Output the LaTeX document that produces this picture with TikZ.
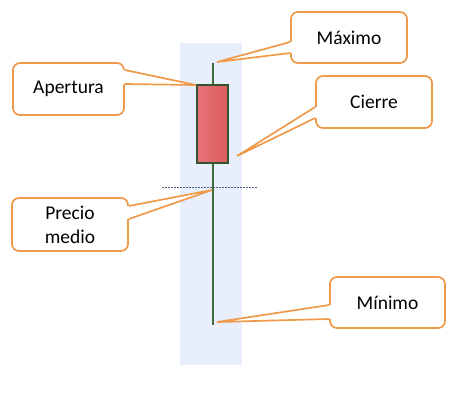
\documentclass[tikz,border=0pt]{standalone}
\usepackage{fontspec}
\setmainfont{Carlito}
\usetikzlibrary{calc}
\definecolor{calloutorange}{HTML}{EE9A4A}
\definecolor{bandblue}{HTML}{E8EEFB}
\definecolor{wickgreen}{HTML}{3F6A3C}
\definecolor{bodyleft}{HTML}{E8727A}
\definecolor{bodyright}{HTML}{DB5C5C}
\definecolor{midline}{HTML}{4C5C7C}
\tikzset{
  calloutbox/.style={draw=calloutorange, line width=1.7pt, fill=white,
    rounded corners=7pt, minimum width=#1, align=center, inner sep=0pt,
    font=\fontsize{19.5}{24}\selectfont, text=black},
  calloutline/.style={draw=calloutorange, line width=1.7pt, line join=miter},
  pointerfill/.style={fill=white}
}
\begin{document}
\begin{tikzpicture}[x=1pt,y=-1pt]
\useasboundingbox (0,0) rectangle (460,400);
% background band
\fill[bandblue] (180,43) rectangle (242,365);
% mean price line
\draw[midline, line width=1pt, dash pattern=on 2pt off 1pt] (162,187) -- (258,187);
% wick
\draw[wickgreen, line width=2pt] (213,63) -- (213,325);
% body
\shade[left color=bodyleft, right color=bodyright] (197,85) rectangle (228,163);
\draw[wickgreen!80!black, line width=1.6pt] (197,85) rectangle (228,163);
% tips
\coordinate (maxtip) at (217,62);
\coordinate (apetip) at (196,85);
\coordinate (ciertip) at (237,156);
\coordinate (medtip) at (212,190);
\coordinate (mintip) at (217,322);
% boxes
\node[calloutbox=116pt, minimum height=51pt] (max) at (349,37.5) {Máximo};
\node[calloutbox=111pt, minimum height=52pt] (ape) at (68.5,89) {Apertura};
\node[calloutbox=116pt, minimum height=52pt] (cie) at (374,102) {Cierre};
\node[calloutbox=116pt, minimum height=53pt] (med) at (70,224.5) {Precio\\medio};
\node[calloutbox=115pt, minimum height=51pt] (min) at (387.5,302.5) {Mínimo};
% pointers: west side
\foreach \n/\a/\b/\t in {max/4.5/15.5/maxtip, cie/5/16/ciertip, min/2.5/16.5/mintip}{
  \coordinate (j1) at ($(\n.west)+(0,\a)$);
  \coordinate (j2) at ($(\n.west)+(0,\b)$);
  \fill[pointerfill] ($(j1)+(2,0)$) -- (j1) -- (\t) -- (j2) -- ($(j2)+(2,0)$) -- cycle;
  \draw[calloutline] (j1) -- (\t) -- (j2);
}
% pointers: east side
\foreach \n/\a/\b/\t in {ape/-19/-5/apetip, med/-18.5/-5.5/medtip}{
  \coordinate (j1) at ($(\n.east)+(0,\a)$);
  \coordinate (j2) at ($(\n.east)+(0,\b)$);
  \fill[pointerfill] ($(j1)+(-2,0)$) -- (j1) -- (\t) -- (j2) -- ($(j2)+(-2,0)$) -- cycle;
  \draw[calloutline] (j1) -- (\t) -- (j2);
}
\end{tikzpicture}
\end{document}
